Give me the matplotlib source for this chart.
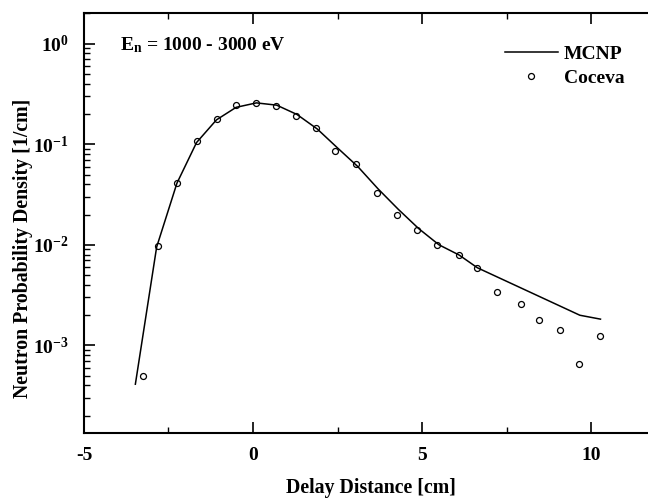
import numpy as np
import matplotlib
matplotlib.use("Agg")
import matplotlib.pyplot as plt
from matplotlib.ticker import LogLocator, FixedLocator, NullFormatter

plt.rcParams['font.family'] = ['Liberation Serif', 'DejaVu Serif']
plt.rcParams['font.weight'] = 'bold'
plt.rcParams['mathtext.fontset'] = 'custom'
plt.rcParams['mathtext.rm'] = 'Liberation Serif:bold'
plt.rcParams['mathtext.it'] = 'Liberation Serif:bold'
plt.rcParams['mathtext.bf'] = 'Liberation Serif:bold'
plt.rcParams['axes.unicode_minus'] = False

## MCNP (line)
mcnp_x = [-3.48, -2.85, -2.25, -1.67, -1.08, -0.5, 0.1, 0.7, 1.3, 1.9, 2.5, 3.1,
          3.7, 4.3, 4.9, 5.5, 6.1, 6.64, 9.67, 10.28]
mcnp_y = [4.1e-4, 0.0095, 0.041, 0.104, 0.175, 0.233, 0.258, 0.245, 0.198, 0.142,
          0.092, 0.060, 0.036, 0.0225, 0.0145, 0.0100, 0.0079, 0.0059, 0.00199, 0.00182]

## Coceva (circles)
cov_x = [-3.26, -2.80, -2.24, -1.67, -1.07, -0.51, 0.08, 0.67, 1.27, 1.87, 2.44,
         3.06, 3.67, 4.25, 4.86, 5.44, 6.10, 6.64, 7.22, 7.92, 8.46, 9.07, 9.63, 10.26]
cov_y = [5.0e-4, 0.0097, 0.0407, 0.107, 0.180, 0.247, 0.259, 0.240, 0.191, 0.145,
         0.0863, 0.0633, 0.0326, 0.0199, 0.0139, 0.0100, 0.00785, 0.00587, 0.00337,
         0.0026, 0.00177, 0.00141, 0.00065, 0.00124]

fig = plt.figure(figsize=(6.48, 4.98), dpi=100)
ax = fig.add_axes([0.1296, 0.1305, 0.8868, 0.8424])

ax.plot(mcnp_x, mcnp_y, color='black', lw=1.1, label='MCNP')
ax.plot(cov_x, cov_y, 'o', mfc='none', mec='black', ms=4.3, mew=0.9, label='Coceva')

ax.set_yscale('log')
ax.set_xlim(-5, 12)
ax.set_ylim(1.34e-4, 2)

ax.xaxis.set_major_locator(FixedLocator([-5, 0, 5, 10]))
ax.xaxis.set_minor_locator(FixedLocator([-2.5, 2.5, 7.5]))
ax.yaxis.set_major_locator(LogLocator(base=10, numticks=10))
ax.yaxis.set_minor_locator(LogLocator(base=10, subs=np.arange(2, 10), numticks=20))
ax.yaxis.set_minor_formatter(NullFormatter())

ax.tick_params(axis='both', which='major', direction='in', length=8, width=1.2,
               labelsize=14, pad=10)
ax.tick_params(axis='y', which='major', pad=11)
ax.tick_params(axis='both', which='minor', direction='in', length=4, width=1.0)
ax.tick_params(axis='x', which='both', top=True)
ax.tick_params(axis='y', which='both', right=False)

for s in ['left', 'bottom', 'top']:
    ax.spines[s].set_linewidth(1.5)
ax.spines['right'].set_visible(False)

ax.set_xlabel('Delay Distance [cm]', fontsize=14.3, fontweight='bold')
ax.set_ylabel('Neutron Probability Density [1/cm]', fontsize=14.3, fontweight='bold')
ax.xaxis.set_label_coords(0.5, -0.108)
ax.yaxis.set_label_coords(-0.089, 0.441)

ax.text(0.0627, 0.925, 'E$_{n}$ = 1000 - 3000 eV', transform=ax.transAxes,
        fontsize=14, fontweight='bold', va='center')

leg = ax.legend(loc='upper left', bbox_to_anchor=(0.733, 0.925), frameon=False,
                handlelength=2.7, handletextpad=0.3, labelspacing=0.35,
                borderpad=0, borderaxespad=0,
                prop={'weight': 'bold', 'size': 14})

fig.savefig('out.png', dpi=100)
